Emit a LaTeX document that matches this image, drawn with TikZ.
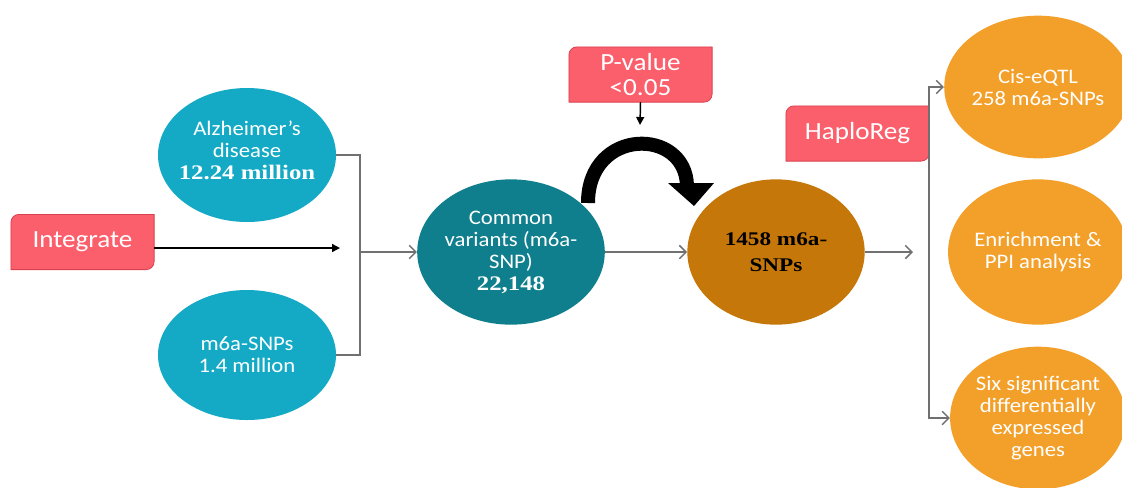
\documentclass[tikz,border=0pt]{standalone}
\usepackage{fontspec}
\setmainfont{Carlito}[FakeStretch=1.1]
\newfontfamily\tnr{Liberation Serif}[FakeStretch=1.2]
\usetikzlibrary{shapes.geometric,arrows.meta,calc}
\definecolor{tealL}{HTML}{14AAC5}
\definecolor{tealD}{HTML}{0F7E8D}
\definecolor{brownO}{HTML}{C6770A}
\definecolor{orangeL}{HTML}{F3A02A}
\definecolor{redbox}{HTML}{FB5F6B}
\definecolor{redline}{HTML}{D9414F}
\definecolor{conngray}{HTML}{707070}
\tikzset{
  ell/.style={ellipse, inner sep=0pt, align=center, text=white,
    font=\fontsize{15.5}{16.5}\selectfont},
  boxtext/.style={inner sep=0pt, minimum width=107pt, minimum height=41pt,
    align=center, text=white, font=\fontsize{18.5}{18.75}\selectfont},
  boxfill/.style={fill=redbox, draw=redline, line width=0.6pt},
  conn/.style={draw=conngray, line width=1.1pt,
    -{Straight Barb[length=5pt,width=10pt,line width=1.1pt]}},
  plainconn/.style={draw=conngray, line width=1.1pt},
  blk/.style={draw=black, line width=1.1pt, -{Triangle[length=6pt,width=6pt]}}
}
\newcommand{\diagbox}[1]{%
  \path[boxfill] (#1.south west) -- ([yshift=-6pt]#1.north west)
    arc[start angle=180,end angle=90,radius=6pt] -- (#1.north east)
    -- ([yshift=6pt]#1.south east)
    arc[start angle=0,end angle=-90,radius=6pt] -- cycle;}
\begin{document}
\begin{tikzpicture}[x=0.75pt,y=0.75pt]
\useasboundingbox (0,0) rectangle (1122,-487);
\fill[white] (0,0) rectangle (1122,-487);

% ellipses
\node[ell, fill=tealL, minimum width=133.5pt, minimum height=100.5pt] (alz) at (247,-155) {};
\node[ell] (alzt) at (247,-150) {Alzheimer’s\\disease\\{\tnr\bfseries 12.24 million}};
\node[ell, fill=tealL, minimum width=133.5pt, minimum height=97.5pt] (snp) at (247,-355)
  {m6a-SNPs\\1.4 million};
\node[ell, fill=tealD, minimum width=133pt, minimum height=109pt] (common) at (511,-252)
  {Common\\variants (m6a-\\SNP)\\{\tnr\bfseries 22,148}};
\node[ell, fill=brownO, minimum width=133pt, minimum height=109pt, text=black,
  font=\tnr\bfseries\fontsize{14.5}{20}\selectfont] (m1458) at (776,-252)
  {1458 m6a-\\SNPs};
\node[ell, fill=orangeL, minimum width=128pt, minimum height=107pt] (cis) at (1038,-87)
  {Cis-eQTL\\258 m6a-SNPs};
\node[ell, fill=orangeL, minimum width=128pt, minimum height=109pt] (enr) at (1038,-252)
  {Enrichment \&\\PPI analysis};
\node[ell, fill=orangeL, minimum width=128pt, minimum height=107pt] (six) at (1038,-418)
  {Six significant\\differentially\\expressed\\genes};

% boxes
\node[boxtext] (integ) at (82.5,-242) {};
\diagbox{integ}
\node[boxtext] (integt) at (integ) {Integrate};
\node[boxtext] (haplo) at (857.5,-133.5) {};
\diagbox{haplo}
\node[boxtext] (haplot) at (haplo) {HaploReg};
\node[boxtext] (pval) at (640.5,-74.5) {};
\diagbox{pval}
\node[boxtext] (pvalt) at (pval) {P-value\\<0.05};

% coordinates
\coordinate (jm) at (360,-252);
\coordinate (ia) at (340,-248);
\coordinate (rout) at (913,-252);
\coordinate (rb) at (929,-252);
\coordinate (pa) at (640,-125);
\coordinate (cs) at (588,-203);
\coordinate (ce) at (687,-186);

% connectors
\draw[plainconn] (alz.east) -- (alz.east -| jm) -- (snp.east -| jm) -- (snp.east);
\draw[conn] (jm) -- (common.west);
\draw[blk] (integ.east |- ia) -- (ia);
\draw[conn] (common.east) -- (m1458.west);
\draw[conn] (m1458.east) -- (rout);
\draw[conn, {Straight Barb[length=5pt,width=10pt,line width=1.1pt]}-{Straight Barb[length=5pt,width=10pt,line width=1.1pt]}]
  (cis.west) -| (rb) |- (six.west);
\draw[blk] (pval.south) -- (pa);

% thick curved arrow
\draw[black, line width=10.5pt] (cs) .. controls (588,-127) and (686,-127) .. (ce);
\fill[black] (668,-183) -- (714,-183) -- (694,-206) -- cycle;
\end{tikzpicture}
\end{document}
